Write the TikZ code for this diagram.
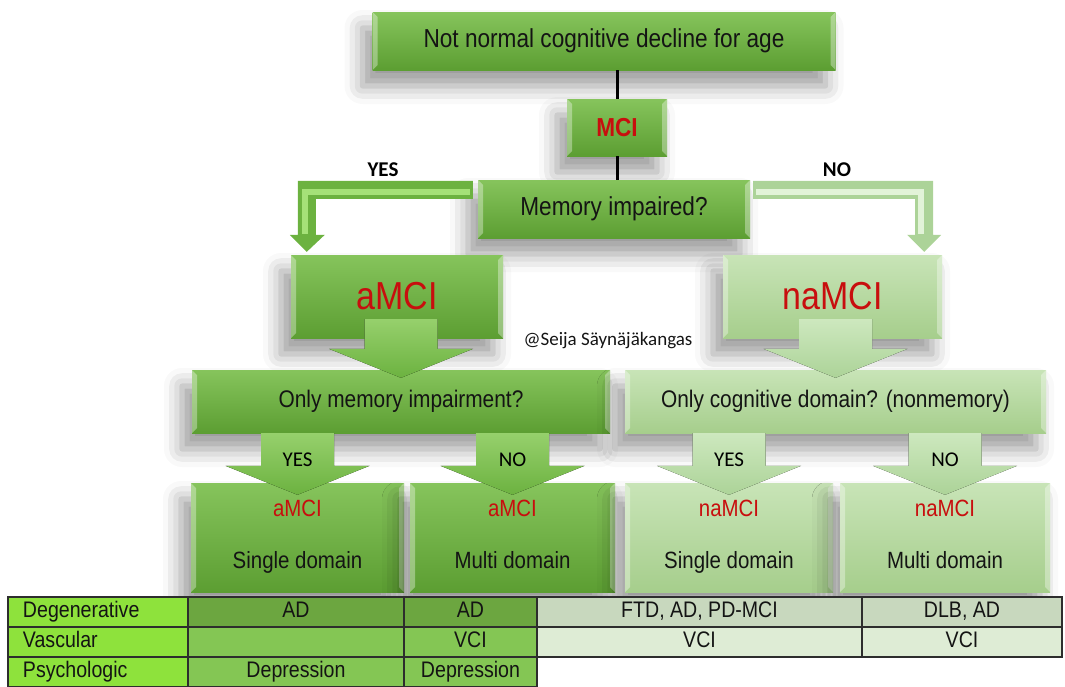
\documentclass[tikz,border=0pt]{standalone}
\usepackage{xcolor}
\usepackage{fontspec}
\setmainfont{Liberation Sans}[FakeStretch=0.87]
\newfontfamily\calfont{Carlito}
\usepackage{tikz}
\usetikzlibrary{calc,shadows.blur}

\definecolor{mcired}{RGB}{200,14,14}
\definecolor{txtgray}{RGB}{20,20,20}
\definecolor{dkgtop}{RGB}{134,196,92}
\definecolor{dkgbot}{RGB}{92,158,50}
\definecolor{ltgtop}{RGB}{200,228,183}
\definecolor{ltgbot}{RGB}{166,206,140}
\definecolor{dkarrow}{RGB}{108,178,64}
\definecolor{dkarrowtop}{RGB}{150,208,108}
\definecolor{dkarrowhl}{RGB}{165,225,120}
\definecolor{ltarrow}{RGB}{172,211,152}
\definecolor{ltarrowtop}{RGB}{205,232,190}
\definecolor{ltarrowhl}{RGB}{226,243,216}
\definecolor{labgreen}{RGB}{142,226,60}
\definecolor{amcitab}{RGB}{108,166,64}
\definecolor{amcitabb}{RGB}{132,198,84}
\definecolor{namcitab}{RGB}{200,216,190}
\definecolor{namcitabb}{RGB}{222,236,213}
\definecolor{tabline}{RGB}{45,45,45}

\newcommand{\fsize}[1]{\fontsize{#1}{#1}\selectfont}
\newcommand{\blockdown}[5]{%
	\fill[#1] let \p1=(#2.south), \p2=(#3.north) in
		(\x2-36.5pt,\y1+#4) -- (\x2+36.5pt,\y1+#4) -- (\x2+36.5pt,\y2-#5+29pt)
		-- (\x2+72pt,\y2-#5+29pt) -- (\x2,\y2-#5) -- (\x2-72pt,\y2-#5+29pt)
		-- (\x2-36.5pt,\y2-#5+29pt) -- cycle;
}

\begin{document}
\begin{tikzpicture}[
	x=1pt, y=-1pt,
	bevel/.style={path picture={
		\fill[white,opacity=.35] (path picture bounding box.north west) -- (path picture bounding box.south west)
			-- ([shift={(5pt,5pt)}]path picture bounding box.south west) -- ([shift={(5pt,-5pt)}]path picture bounding box.north west) -- cycle;
		\fill[white,opacity=.35] (path picture bounding box.north east) -- (path picture bounding box.south east)
			-- ([shift={(-5pt,5pt)}]path picture bounding box.south east) -- ([shift={(-5pt,-5pt)}]path picture bounding box.north east) -- cycle;
	}},
	box/.style={rectangle, inner sep=0pt, align=center, text=txtgray, bevel,
		blur shadow={shadow xshift=-10pt, shadow yshift=-16pt, shadow blur radius=18pt, shadow opacity=40}},
	darkbox/.style={box, top color=dkgtop, bottom color=dkgbot},
	lightbox/.style={box, top color=ltgtop, bottom color=ltgbot},
	endbox/.style={font=\fsize{23.5}, text depth=6pt, minimum height=109pt},
	conn/.style={draw=black, line width=3pt},
	darkarrow/.style={top color=dkarrowtop, bottom color=dkarrow},
	lightarrow/.style={top color=ltarrowtop, bottom color=ltarrow},
	toplab/.style={font=\calfont\bfseries\fsize{21}, text=black},
	arrlab/.style={font=\calfont\fsize{21}, text=black},
	cell/.style={draw=tabline, line width=1.2pt, minimum height=30pt, inner sep=0pt,
		font=\fsize{22.5}, text height=16pt, text depth=5pt, text=txtgray},
	labcell/.style={cell, fill=labgreen, minimum width=180pt, text width=150pt, inner xsep=15pt, align=left}
	]
	\useasboundingbox (0,0) rectangle (1065,686);

	\node[darkbox, minimum width=463pt, minimum height=58pt, font=\fsize{26}] (top) at (604,41) {Not normal cognitive decline for age};
	\node[darkbox, minimum width=100pt, minimum height=57pt, font=\bfseries\fsize{26}, text=mcired] (mci) at (617,127.5) {MCI};
	\node[darkbox, minimum width=272pt, minimum height=58pt, font=\fsize{26}] (mem) at (614,209) {Memory impaired?};

	\node[darkbox, minimum width=212pt, minimum height=83pt, font=\fsize{39}, text=mcired] (amci) at (397,296.5) {aMCI};
	\node[lightbox, minimum width=219pt, minimum height=83pt, font=\fsize{39}, text=mcired] (namci) at (832.5,296.5) {naMCI};

	\node[darkbox, minimum width=418pt, minimum height=63pt, font=\fsize{24}] (onlymem) at (401,401.5) {Only memory impairment?};
	\node[lightbox, minimum width=421pt, minimum height=63pt, font=\fsize{24}] (onlycog) at (835.5,401.5) {Only cognitive domain? (nonmemory)};

	\node[darkbox, endbox, minimum width=213pt] (as) at (297.5,537.5) {\textcolor{mcired}{aMCI}\\[28pt]Single domain};
	\node[darkbox, endbox, minimum width=205pt] (am) at (512.5,537.5) {\textcolor{mcired}{aMCI}\\[28pt]Multi domain};
	\node[lightbox, endbox, minimum width=208pt] (ns) at (729,537.5) {\textcolor{mcired}{naMCI}\\[28pt]Single domain};
	\node[lightbox, endbox, minimum width=210pt] (nm) at (945,537.5) {\textcolor{mcired}{naMCI}\\[28pt]Multi domain};

	\draw[conn] (mci.north) -- (mci.north |- top.south);
	\draw[conn] (mci.south) -- (mci.south |- mem.north);

	\fill[dkarrow] let \p1=(mem.north west), \p2=(amci.north west) in
		(\x1-5pt,\y1-1pt) -- (\x2+7pt,\y1-1pt) -- (\x2+7pt,\y2+20pt) -- (\x2-1pt,\y2+20pt) -- (\x2+16pt,\y2+3pt)
		-- (\x2+34pt,\y2+20pt) -- (\x2+25pt,\y2+20pt) -- (\x2+25pt,\y1-19pt) -- (\x1-5pt,\y1-19pt) -- cycle;
	\draw[dkarrowhl, line width=6pt] let \p1=(mem.north west), \p2=(amci.north west) in
		(\x1-8pt,\y1-12pt) -- (\x2+14pt,\y1-12pt) -- (\x2+14pt,\y2+21pt);
	\fill[ltarrow] let \p1=(mem.north east), \p2=(namci.north east) in
		(\x1+3pt,\y1-1pt) -- (\x2-9pt,\y1-1pt) -- (\x2-9pt,\y2+20pt) -- (\x2-1pt,\y2+20pt) -- (\x2-18pt,\y2+3pt)
		-- (\x2-35pt,\y2+20pt) -- (\x2-27pt,\y2+20pt) -- (\x2-27pt,\y1-19pt) -- (\x1+3pt,\y1-19pt) -- cycle;
	\draw[ltarrowhl, line width=6pt] let \p1=(mem.north east), \p2=(namci.north east) in
		(\x1+6pt,\y1-12pt) -- (\x2-21pt,\y1-12pt) -- (\x2-21pt,\y2+21pt);
	\node[toplab] (yes) at (383,170) {YES};
	\node[toplab] (no) at (837,170) {NO};

	\blockdown{darkarrow}{amci}{onlymem}{19pt}{8pt}
	\blockdown{lightarrow}{namci}{onlycog}{19pt}{8pt}
	\blockdown{darkarrow}{onlymem}{as}{0pt}{12pt}
	\blockdown{darkarrow}{onlymem}{am}{0pt}{12pt}
	\blockdown{lightarrow}{onlycog}{ns}{0pt}{12pt}
	\blockdown{lightarrow}{onlycog}{nm}{0pt}{12pt}

	\node[arrlab] (yesas) at ([yshift=23pt]as.north) {YES};
	\node[arrlab] (noam) at ([yshift=23pt]am.north) {NO};
	\node[arrlab] (yesns) at ([yshift=23pt]ns.north) {YES};
	\node[arrlab] (nonm) at ([yshift=23pt]nm.north) {NO};

	\node[font=\calfont\fsize{19}, text=txtgray] (credit) at (608,341) {@Seija Säynäjäkangas};

	\node[labcell] (deg) at (98,612) {Degenerative};
	\node[cell, fill=amcitab, minimum width=216pt] (degas) at (296,612) {AD};
	\node[cell, fill=amcitab, minimum width=133pt] (degam) at (470.5,612) {AD};
	\node[cell, fill=namcitab, minimum width=325pt] (degns) at (699.5,612) {FTD, AD, PD-MCI};
	\node[cell, fill=namcitab, minimum width=200pt] (degnm) at (962,612) {DLB, AD};

	\node[labcell] (vas) at (98,642) {Vascular};
	\node[cell, fill=amcitabb, minimum width=216pt] (vasas) at (296,642) {};
	\node[cell, fill=amcitabb, minimum width=133pt] (vasam) at (470.5,642) {VCI};
	\node[cell, fill=namcitabb, minimum width=325pt] (vasns) at (699.5,642) {VCI};
	\node[cell, fill=namcitabb, minimum width=200pt] (vasnm) at (962,642) {VCI};

	\node[labcell] (psy) at (98,672) {Psychologic};
	\node[cell, fill=amcitabb, minimum width=216pt] (psyas) at (296,672) {Depression};
	\node[cell, fill=amcitabb, minimum width=133pt] (psyam) at (470.5,672) {Depression};
\end{tikzpicture}
\end{document}
